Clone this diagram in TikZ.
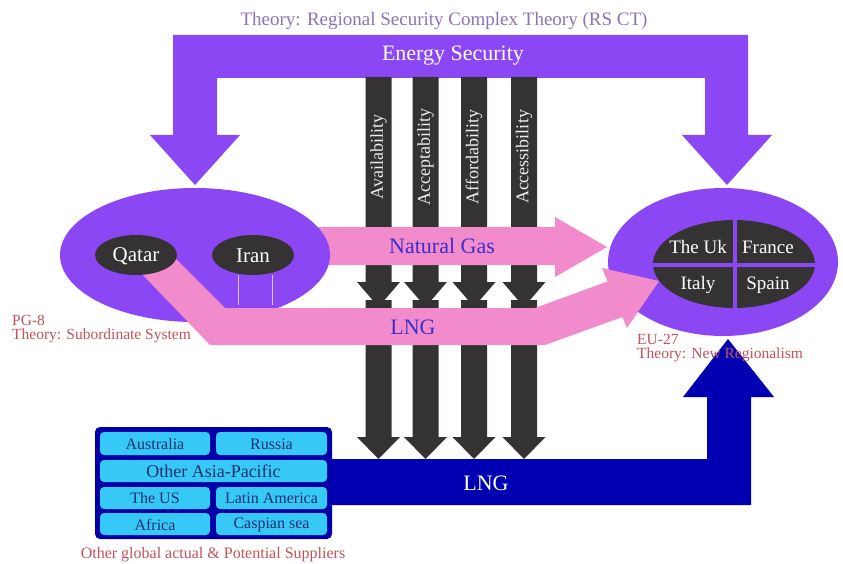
\documentclass[tikz,border=0pt]{standalone}
\usepackage{fontspec}
\setmainfont{Liberation Serif}
\definecolor{purp}{HTML}{8C47F5}
\definecolor{darkg}{HTML}{353233}
\definecolor{pinkb}{HTML}{F28BCB}
\definecolor{blueb}{HTML}{0000B2}
\definecolor{cyanb}{HTML}{36C8F6}
\definecolor{boxb}{HTML}{0000A8}
\definecolor{redt}{HTML}{C2525E}
\definecolor{titlec}{HTML}{8F72B8}
\definecolor{gast}{HTML}{3A2FC8}
\definecolor{celltxt}{HTML}{1C2F6E}
\definecolor{lav}{HTML}{D8C4FF}
\tikzset{
  fs/.style={font=\fontsize{#1}{#1}\selectfont},
  cell/.style={fill=cyanb, rounded corners=4pt},
  celltext/.style={text=celltxt, inner sep=0pt},
  redlabel/.style={text=redt, anchor=base west, inner sep=0pt, fs=15.5},
  whitetext/.style={text=white, inner sep=0pt},
  barlabel/.style={text=white!93!black, rotate=90, inner sep=0pt, fs=18},
}
\begin{document}
\begin{tikzpicture}[x=1pt,y=-1pt]
\useasboundingbox (0,0) rectangle (843,564);
\fill[white] (0,0) rectangle (843,564);

% Energy security frame with two arrows
\fill[purp] (173,35) -- (748,35) -- (748,135) -- (772,135) -- (727,185) -- (682,135) -- (705,135) -- (705,78) -- (217,78) -- (217,135) -- (240,135) -- (195,185) -- (150,135) -- (173,135) -- cycle;

% dark arrows
\foreach \cx in {378.5,425.5,474,524}{
  \fill[darkg] ({\cx-13},77) -- ({\cx+13},77) -- ({\cx+13},282) -- ({\cx+21.5},282) -- (\cx,307) -- ({\cx-21.5},282) -- ({\cx-13},282) -- cycle;
  \fill[darkg] ({\cx-13},300) -- ({\cx+13},300) -- ({\cx+13},437) -- ({\cx+21.5},437) -- (\cx,459) -- ({\cx-21.5},437) -- ({\cx-13},437) -- cycle;
}

% blue LNG arrow
\fill[blueb] (330,459) -- (707,459) -- (707,397) -- (683,397) -- (728,339) -- (774,397) -- (751,397) -- (751,505) -- (330,505) -- cycle;

% right ellipse
\fill[purp] (723,262) ellipse [x radius=115pt, y radius=74pt];

% natural gas arrow
\fill[pinkb] (300,227) -- (555,227) -- (555,217) -- (607,247) -- (555,277) -- (555,265) -- (300,265) -- cycle;

% left ellipse
\fill[purp] (195,255) ellipse [x radius=135pt, y radius=67pt];

% pink LNG arrow
\fill[pinkb] (140,272) -- (175,258) -- (225,308) -- (535,308) -- (607.6,281.5) -- (602,268) -- (659,281) -- (627,328) -- (622.4,317) -- (545,345) -- (210,345) -- cycle;

% Qatar and Iran
\fill[darkg] (136,255) ellipse [x radius=41pt, y radius=20pt];
\fill[darkg] (253,255) ellipse [x radius=41pt, y radius=20pt];
\draw[lav, line width=0.8pt] (238,275) -- (238,305) (272,275) -- (272,305);
\node[whitetext, fs=21] (qatar) at (136,256) {Qatar};
\node[whitetext, fs=21] (iran) at (253,256) {Iran};

% EU inner ellipse with cross
\fill[darkg] (734,264) ellipse [x radius=81pt, y radius=44pt];
\begin{scope}
  \clip (734,264) ellipse [x radius=81pt, y radius=44pt];
  \fill[purp] (733,215) rectangle (737,312);
  \fill[purp] (650,263) rectangle (820,267);
\end{scope}
\node[whitetext, fs=19] (uk) at (698,247) {The Uk};
\node[whitetext, fs=19] (fr) at (768,247) {France};
\node[whitetext, fs=19] (it) at (698,285) {Italy};
\node[whitetext, fs=19] (es) at (768,285) {Spain};

% suppliers box
\fill[boxb, rounded corners=5pt] (95,427) rectangle (332,539);
\fill[cell] (100,432) rectangle (210,455);
\fill[cell] (216,432) rectangle (327,455);
\fill[cell] (100,460) rectangle (327,482);
\fill[cell] (100,487) rectangle (210,509);
\fill[cell] (216,487) rectangle (327,509);
\fill[cell] (100,513) rectangle (210,535);
\fill[cell] (216,513) rectangle (327,535);
\node[celltext, fs=16] (au) at (155,444) {Australia};
\node[celltext, fs=16] (ru) at (271.5,444) {Russia};
\node[celltext, fs=18] (oap) at (213.5,471.5) {Other Asia-Pacific};
\node[celltext, fs=16] (us) at (155,498.5) {The US};
\node[celltext, fs=16] (la) at (271.5,498.5) {Latin America};
\node[celltext, fs=16] (af) at (155,524.5) {Africa};
\node[celltext, fs=16] (cs) at (271.5,524.5) {Caspian sea};
\node[text=redt, inner sep=0pt, fs=16] (cap) at (213,555) {Other global actual \& Potential Suppliers};

% texts
\node[text=titlec, inner sep=0pt, fs=19] (title) at (444,21) {Theory: Regional Security Complex Theory (RS CT)};
\node[whitetext, fs=22] (es) at (453,56) {Energy Security};
\node[barlabel] (b1) at (378.5,157) {Availability};
\node[barlabel] (b2) at (425.5,157) {Acceptability};
\node[barlabel] (b3) at (474,157) {Affordability};
\node[barlabel] (b4) at (524,157) {Accessibility};
\node[text=gast, inner sep=0pt, fs=22] (ng) at (442,246) {Natural Gas};
\node[text=gast, inner sep=0pt, fs=22] (lng1) at (413,327) {LNG};
\node[whitetext, fs=22] (lng2) at (486,483) {LNG};
\node[redlabel] (pg) at (12,325) {PG-8};
\node[redlabel] (pgt) at (12,339) {Theory: Subordinate System};
\node[redlabel] (eu) at (637,344) {EU-27};
\node[redlabel] (eut) at (637,358) {Theory: New Regionalism};
\end{tikzpicture}
\end{document}
